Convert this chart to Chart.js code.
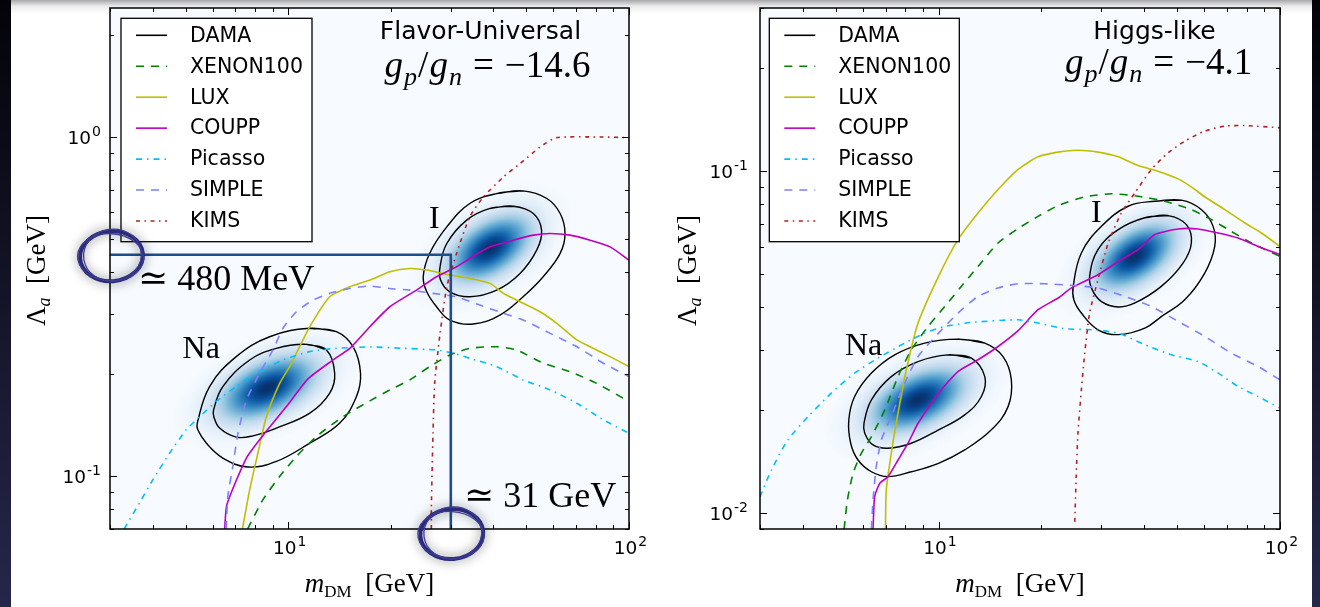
<!DOCTYPE html>
<html>
<head>
<meta charset="utf-8">
<title>DAMA regions vs. direct detection bounds</title>
<script src="https://cdn.jsdelivr.net/npm/chart.js@4.4.1/dist/chart.umd.min.js"></script>
<style>
  html, body { margin: 0; padding: 0; background: #fff; }
  body { width: 1320px; height: 607px; position: relative; overflow: hidden; }
  .edge { position: absolute; top: 0; bottom: 0; background: linear-gradient(#030308, #26264a); }
  #edgeL { left: 0; width: 11px; }
  #edgeR { left: 1312px; width: 8px; }
  #top { position: absolute; left: 11px; width: 1301px; top: 0; height: 14px;
         background: linear-gradient(#a8a8ac, #ececec 45%, #fff); }
  canvas { position: absolute; top: 0; }
  #left { left: 0; }
  #right { left: 660px; }
</style>
</head>
<body>
<div id="top"></div>
<div class="edge" id="edgeL"></div>
<div class="edge" id="edgeR"></div>
<canvas id="left" width="660" height="607"></canvas>
<canvas id="right" width="660" height="607"></canvas>
<script>
// ---- axes ----
const xTicks = [3, 4, 5, 6, 7, 8, 9, 10, 20, 30, 40, 50, 60, 70, 80, 90, 100];
const xLabels = [[10, '1'], [100, '2']];
const yTicksL = [0.07, 0.08, 0.09, 0.1, 0.2, 0.3, 0.4, 0.5, 0.6, 0.7, 0.8, 0.9, 1, 2];
const yLabelsL = [[0.1, '-1'], [1, '0']];
const yTicksR = [0.009, 0.01, 0.02, 0.03, 0.04, 0.05, 0.06, 0.07, 0.08, 0.09, 0.1, 0.2, 0.3];
const yLabelsR = [[0.01, '-2'], [0.1, '-1']];

const series = ['DAMA', 'XENON100', 'LUX', 'COUPP', 'Picasso', 'SIMPLE', 'KIMS'];

// ---- flavor-universal, gp/gn = -14.6  ([m_DM GeV, Lambda_a GeV]) ----
const xenonL = [[7.6,0.07],[8.43,0.0854],[9.44,0.100],[10.57,0.1145],[12.1,0.1311],[14.49,0.150],[17.36,0.167],[19.87,0.1799],[22.75,0.1925],[26.0,0.2106],[29.8,0.228],[34.1,0.2385],[40.9,0.2411],[46.8,0.2359],[56.0,0.2156],[67.1,0.2036],[80.4,0.188],[100,0.1662]];
const luxL = [[7.34,0.07],[7.71,0.0914],[8.15,0.1172],[8.63,0.150],[9.44,0.188],[10.1,0.2106],[10.57,0.2306],[11.57,0.2762],[13.24,0.3384],[15.16,0.362],[17.36,0.379],[19.87,0.4009],[22.75,0.410],[25.5,0.4055],[29.8,0.392],[34.1,0.3834],[39.1,0.3705],[42.8,0.3463],[46.8,0.3309],[54.8,0.3056],[61.4,0.2826],[70.3,0.2524],[76.9,0.2411],[88.0,0.2254],[100,0.2106]];
const couppL = [[6.51,0.07],[6.61,0.0826],[7.54,0.1133],[8.53,0.134],[9.88,0.1606],[11.43,0.1938],[13.54,0.2204],[15.16,0.2385],[17.36,0.2762],[19.87,0.3162],[23.8,0.354],[27.25,0.3876],[31.2,0.4147],[34.1,0.4388],[39.1,0.4747],[45.8,0.4967],[52.4,0.514],[58.7,0.5198],[67.1,0.514],[76.9,0.4967],[88.0,0.4747],[100,0.4338]];
const picassoL = [[3.3,0.07],[3.66,0.0835],[4.01,0.0978],[4.49,0.1172],[5.02,0.1372],[5.5,0.150],[6.15,0.1662],[7.04,0.184],[8.06,0.2014],[9.65,0.2204],[11.57,0.2332],[13.85,0.2385],[17.36,0.2407],[21.7,0.2385],[27.25,0.2359],[30.5,0.2306],[34.1,0.2229],[40.9,0.2106],[48.9,0.1925],[58.7,0.1799],[70.3,0.1643],[84.1,0.1468],[100,0.134]];
const simpleL = [[6.58,0.07],[6.65,0.0873],[6.88,0.107],[7.12,0.134],[7.54,0.168],[8.25,0.2014],[9.02,0.2359],[9.65,0.2732],[10.57,0.3056],[11.83,0.3309],[13.24,0.3463],[15.16,0.358],[17.36,0.3638],[19.87,0.358],[22.75,0.354],[26.6,0.3463],[31.2,0.3384],[36.5,0.3199],[42.8,0.3023],[48.9,0.2889],[58.7,0.264],[70.3,0.2411],[84.1,0.2156],[100,0.1968]];
const kimsL = [[26.3,0.07],[26.3,0.0798],[26.6,0.134],[26.9,0.188],[27.9,0.264],[29.2,0.362],[31.2,0.454],[34.1,0.582],[37.4,0.666],[42.8,0.763],[47.9,0.835],[54.8,0.934],[61.4,0.996],[84.1,1.0],[100,0.996]];
const naOutL = [[11.57,0.2732],[13.85,0.267],[15.5,0.2411],[16.3,0.2014],[15.86,0.172],[14.17,0.1436],[11.57,0.1254],[9.23,0.1107],[7.62,0.1066],[6.43,0.1133],[5.75,0.1254],[5.43,0.1372],[5.41,0.1436],[5.88,0.184],[7.04,0.2254],[8.82,0.258]];
const naInL = [[11.31,0.245],[12.95,0.2359],[13.69,0.2014],[13.24,0.176],[11.57,0.1536],[9.23,0.1388],[7.88,0.1317],[7.04,0.1306],[6.29,0.1388],[6.05,0.150],[6.04,0.157],[6.43,0.184],[7.71,0.2204],[9.23,0.2385]];
const iOutL = [[40.9,0.6815],[48.9,0.694],[57.4,0.659],[62.8,0.5953],[64.9,0.5198],[62.8,0.454],[56.0,0.3876],[48.9,0.3384],[41.8,0.2989],[34.9,0.2812],[29.8,0.2889],[27.25,0.3162],[25.5,0.350],[24.9,0.3876],[26.0,0.454],[29.2,0.5435],[34.1,0.637]];
const iInL = [[39.1,0.616],[45.8,0.6254],[52.4,0.5953],[55.4,0.5315],[53.6,0.4642],[47.9,0.3965],[40.9,0.354],[34.1,0.3384],[29.8,0.350],[28.0,0.379],[27.9,0.4147],[29.2,0.4857],[33.4,0.569]];
// DAMA best-fit densities: centre, spread (decades, major/minor), tilt (deg)
const blobsL = [
  { at: [8.7, 0.182], spread: [0.1, 0.05], tilt: 25 },
  { at: [39.1, 0.4695], spread: [0.09, 0.05], tilt: 33 }
];
const guideL = [[3, 0.45], [30, 0.45], [30, 0.07]];

// ---- Higgs-like, gp/gn = -4.1 ----
const xenonR = [[5.29,0.009],[5.41,0.01094],[5.62,0.0131],[5.94,0.01498],[6.36,0.01676],[6.96,0.02006],[7.61,0.0251],[8.32,0.03006],[9.32,0.03518],[10.43,0.04025],[11.66,0.04606],[13.05,0.0527],[14.94,0.0617],[17.1,0.068],[19.56,0.0738],[22.4,0.0794],[26.8,0.0842],[32.1,0.0859],[38.4,0.0845],[46.0,0.0817],[55.0,0.0772],[63.0,0.0722],[72.0,0.0667],[82.5,0.0617],[100,0.0564]];
const luxR = [[6.99,0.009],[7.03,0.0117],[7.27,0.01498],[7.61,0.01962],[8.05,0.02628],[8.71,0.036],[10.0,0.0493],[11.4,0.0631],[13.05,0.0755],[14.94,0.0884],[17.1,0.1012],[19.56,0.1102],[22.4,0.1137],[25.6,0.1152],[29.3,0.1137],[33.6,0.1102],[38.4,0.1039],[43.9,0.100],[50.3,0.095],[55.0,0.090],[60.2,0.0842],[68.9,0.0772],[78.9,0.0706],[88.2,0.066],[100,0.0603]];
const couppR = [[6.43,0.009],[6.5,0.01119],[6.73,0.01224],[7.11,0.0128],[7.61,0.01432],[8.14,0.01603],[8.71,0.01834],[10.0,0.02245],[11.4,0.02597],[13.05,0.02811],[14.94,0.03074],[17.1,0.0342],[19.56,0.03937],[22.4,0.0426],[24.5,0.0456],[29.3,0.0498],[33.6,0.0545],[38.4,0.059],[43.0,0.0653],[50.3,0.0678],[57.6,0.0678],[65.9,0.066],[75.4,0.0638],[86.3,0.0603],[100,0.0571]];
const picassoR = [[3.0,0.01116],[3.24,0.01339],[3.62,0.0164],[4.15,0.01918],[4.85,0.02245],[5.68,0.0257],[6.65,0.02843],[7.96,0.03146],[9.11,0.03364],[10.43,0.03518],[12.48,0.03614],[17.1,0.0368],[19.56,0.036],[23.4,0.03464],[28.0,0.0344],[33.6,0.03364],[40.2,0.0311],[48.1,0.02906],[57.6,0.02778],[65.9,0.0257],[75.4,0.02348],[86.3,0.02195],[100,0.0203]];
const simpleR = [[6.36,0.009],[6.43,0.01094],[6.57,0.01369],[6.8,0.0164],[7.27,0.01918],[7.96,0.02402],[8.71,0.02873],[10.0,0.03364],[11.4,0.0385],[13.05,0.04306],[14.94,0.0456],[17.1,0.0469],[20.5,0.0469],[24.5,0.0464],[29.3,0.0456],[35.1,0.04306],[42.0,0.04025],[50.3,0.0364],[60.2,0.0329],[72.0,0.0294],[86.3,0.02686],[100,0.02456]];
const kimsR = [[25.06,0.00945],[25.3,0.0128],[25.6,0.01715],[26.2,0.02296],[26.8,0.0294],[27.7,0.0385],[29.3,0.0482],[31.4,0.0617],[34.3,0.0755],[37.6,0.0865],[42.0,0.1012],[47.0,0.1132],[52.6,0.1224],[60.2,0.131],[68.9,0.1354],[78.9,0.136],[100,0.134]];
const naOutR = [[11.4,0.0323],[13.66,0.03146],[15.45,0.02873],[16.34,0.02456],[15.98,0.02051],[14.28,0.01754],[11.93,0.01532],[10.0,0.014],[8.32,0.01323],[7.11,0.0128],[6.36,0.01323],[5.81,0.01432],[5.53,0.01603],[5.46,0.01875],[5.68,0.02195],[6.36,0.0257],[7.44,0.02906],[9.11,0.03146]];
const naInR = [[10.66,0.02906],[12.48,0.02843],[13.66,0.0251],[13.35,0.02195],[11.93,0.0194],[10.0,0.01754],[8.32,0.01603],[7.11,0.0155],[6.43,0.01585],[6.08,0.01715],[6.05,0.01834],[6.36,0.02146],[7.27,0.0251],[8.71,0.02778]];
const iOutR = [[43.0,0.0817],[51.4,0.0823],[58.9,0.0772],[63.7,0.069],[64.4,0.0603],[60.2,0.0504],[52.6,0.0421],[44.9,0.0376],[40.2,0.0348],[33.6,0.0333],[29.3,0.0344],[26.2,0.0385],[24.9,0.0421],[24.8,0.04606],[26.2,0.0577],[30.0,0.069],[35.9,0.079]];
const iInR = [[40.2,0.0731],[47.0,0.0742],[53.2,0.0698],[55.0,0.0617],[52.0,0.0539],[44.9,0.04606],[37.6,0.0412],[33.6,0.0401],[30.0,0.0416],[28.2,0.045],[27.7,0.0493],[29.3,0.059],[33.6,0.0675]];
const blobsR = [
  { at: [8.7, 0.02146], spread: [0.098, 0.05], tilt: 25 },
  { at: [37.6, 0.0564], spread: [0.088, 0.048], tilt: 34 }
];

// ---- styles ----
const styles = {
  DAMA:     { color: '#000000', dash: [] },
  XENON100: { color: '#008000', dash: [8, 7] },
  LUX:      { color: '#bfbf00', dash: [] },
  COUPP:    { color: '#bf00bf', dash: [] },
  Picasso:  { color: '#00bfff', dash: [6, 5, 1.5, 5] },
  SIMPLE:   { color: '#7f7fff', dash: [8, 7] },
  KIMS:     { color: '#b22222', dash: [4, 4.5, 1.5, 4.5] }
};
const SANS = '"DejaVu Sans", sans-serif';
const SERIF = '"Liberation Serif", "DejaVu Serif", serif';
const bluesMap = ['#f7fbff','#deebf7','#c6dbef','#9ecae1','#6baed6','#4292c6','#2171b5','#08519c','#08306b'];

function blues(v) {
  const s = Math.max(0, Math.min(1, v)) * 8;
  const i = Math.min(7, Math.floor(s)), f = s - i;
  const a = bluesMap[i], b = bluesMap[i + 1];
  const c = k => Math.round(parseInt(a.substr(k, 2), 16) * (1 - f) + parseInt(b.substr(k, 2), 16) * f);
  return 'rgb(' + c(1) + ',' + c(3) + ',' + c(5) + ')';
}

const pts = a => a.map(p => ({ x: p[0], y: p[1] }));

function curve(name, data) {
  return { label: name, data: pts(data), showLine: true, borderColor: styles[name].color,
    borderDash: styles[name].dash, borderWidth: 1.6, pointRadius: 0, tension: 0.2, order: 5 };
}
function contour(data) {
  return { label: 'DAMA', data: pts(data.concat([data[0], data[1]])), showLine: true,
    borderColor: '#000', borderWidth: 1.4, pointRadius: 0, tension: 0.4, order: 8 };
}

// draws a run of text pieces (for sub/superscripts)
function rich(ctx, parts, x, y, align) {
  let w = 0;
  parts.forEach(p => { ctx.font = p.f; p.w = ctx.measureText(p.t).width + (p.gap || 0); w += p.w; });
  let cx = align === 'center' ? x - w / 2 : align === 'right' ? x - w : x;
  ctx.textAlign = 'left';
  ctx.textBaseline = 'alphabetic';
  parts.forEach(p => { ctx.font = p.f; ctx.fillText(p.t, cx + (p.pre || 0), y + (p.dy || 0)); cx += p.w; });
}

function ring(ctx, cx, cy, rx, ry) {
  ctx.save();
  ctx.shadowColor = 'rgba(0,0,0,0.55)';
  ctx.shadowBlur = 11;
  ctx.strokeStyle = '#2a2a78';
  ctx.lineWidth = 4;
  ctx.beginPath(); ctx.ellipse(cx, cy, rx, ry, -0.08, 0, 2 * Math.PI); ctx.stroke();
  ctx.shadowBlur = 0;
  ctx.lineWidth = 1.3;
  ctx.strokeStyle = '#3c3c94';
  ctx.beginPath(); ctx.ellipse(cx + 1, cy - 1, rx - 2.5, ry + 1, -0.14, 0, 2 * Math.PI); ctx.stroke();
  ctx.beginPath(); ctx.ellipse(cx - 1, cy + 1, rx + 1.5, ry - 1.5, 0.05, 0, 2 * Math.PI); ctx.stroke();
  ctx.restore();
}

function decor(p) {
  return {
    id: 'decor',
    beforeDraw(chart) {
      const { ctx, chartArea: a } = chart;
      ctx.save();
      ctx.fillStyle = '#f7fbff';
      ctx.fillRect(a.left, a.top, a.width, a.height);
      ctx.restore();
    },
    beforeDatasetsDraw(chart) {
      const { ctx, chartArea: a, scales: { x, y } } = chart;
      ctx.save();
      ctx.beginPath(); ctx.rect(a.left, a.top, a.width, a.height); ctx.clip();
      p.blobs.forEach(b => {
        const cx = x.getPixelForValue(b.at[0]), cy = y.getPixelForValue(b.at[1]);
        const dec = x.getPixelForValue(b.at[0] * 10) - cx;
        ctx.save();
        ctx.translate(cx, cy);
        ctx.rotate(-b.tilt * Math.PI / 180);
        ctx.scale(b.spread[0] * dec, b.spread[1] * dec);
        const g = ctx.createRadialGradient(0, 0, 0, 0, 0, 3);
        for (let i = 0; i <= 24; i++) {
          const t = i / 24;
          g.addColorStop(t, blues(Math.exp(-(3 * t) * (3 * t) / 2)));
        }
        ctx.fillStyle = g;
        ctx.beginPath(); ctx.arc(0, 0, 3, 0, 2 * Math.PI); ctx.fill();
        ctx.restore();
      });
      ctx.restore();
    },
    afterDatasetsDraw(chart) {
      const { ctx, chartArea: a, scales: { x, y } } = chart;
      ctx.save();
      ctx.strokeStyle = '#000';
      ctx.lineWidth = 1;
      const seg = (x0, y0, x1, y1) => { ctx.beginPath(); ctx.moveTo(x0, y0); ctx.lineTo(x1, y1); ctx.stroke(); };
      const xMaj = xLabels.map(l => l[0]), yMaj = p.yLabels.map(l => l[0]);
      xTicks.forEach(v => {
        const px = Math.round(x.getPixelForValue(v)) + 0.5, len = xMaj.includes(v) ? 7 : 4;
        seg(px, a.bottom, px, a.bottom - len);
        seg(px, a.top, px, a.top + len);
      });
      p.yTicks.forEach(v => {
        const py = Math.round(y.getPixelForValue(v)) + 0.5, len = yMaj.includes(v) ? 7 : 4;
        seg(a.left, py, a.left + len, py);
        seg(a.right, py, a.right - len, py);
      });
      ctx.lineWidth = 1.5;
      ctx.strokeRect(a.left, a.top, a.width, a.height);
      ctx.fillStyle = '#000';
      xLabels.forEach(l => rich(ctx, [{ t: '10', f: '18.5px ' + SANS }, { t: l[1], f: '14px ' + SANS, dy: -8, pre: 1 }],
        x.getPixelForValue(l[0]) + 1, a.bottom + 25, 'center'));
      p.yLabels.forEach(l => rich(ctx, [{ t: '10', f: '18.5px ' + SANS }, { t: l[1], f: '14px ' + SANS, dy: -8, pre: 1 }],
        a.left - p.labelGap, y.getPixelForValue(l[0]) + 7, 'right'));
      ctx.restore();
    },
    afterDraw(chart) {
      const { ctx, chartArea: a, scales: { x, y } } = chart;
      ctx.save();
      ctx.fillStyle = '#000';
      // axis titles
      rich(ctx, [{ t: 'm', f: 'italic 27px ' + SERIF }, { t: 'DM', f: '17px ' + SERIF, dy: 5 },
        { t: '  [GeV]', f: '27px ' + SERIF }], (a.left + a.right) / 2, 592, 'center');
      ctx.save();
      ctx.translate(p.yTitleX, (a.top + a.bottom) / 2 + 2);
      ctx.rotate(-Math.PI / 2);
      rich(ctx, [{ t: '\u039b', f: '27px ' + SERIF }, { t: 'a', f: 'italic 18px ' + SERIF, dy: 5 },
        { t: '  [GeV]', f: '27px ' + SERIF }], 0, 0, 'center');
      ctx.restore();
      // titles
      ctx.font = '25px ' + SANS;
      ctx.textAlign = 'center';
      ctx.fillText(p.title, p.titleAt[0], p.titleAt[1]);
      rich(ctx, [{ t: 'g', f: 'italic 37px ' + SERIF, gap: 1 }, { t: 'p', f: 'italic 26px ' + SERIF, dy: 8, gap: 1 },
        { t: '/', f: '37px ' + SERIF, gap: 1 }, { t: 'g', f: 'italic 37px ' + SERIF, gap: 1 },
        { t: 'n', f: 'italic 26px ' + SERIF, dy: 8, gap: 11 }, { t: '=', f: '37px ' + SERIF, gap: 11 },
        { t: p.ratio, f: '37px ' + SERIF }], p.ratioAt[0], p.ratioAt[1], 'center');
      // target labels
      p.targets.forEach(t => {
        ctx.font = '32px ' + SERIF;
        ctx.textAlign = 'left';
        ctx.fillText(t.text, x.getPixelForValue(t.at[0]), y.getPixelForValue(t.at[1]));
      });
      p.notes.forEach(n => {
        ctx.font = '36px ' + SERIF;
        ctx.textAlign = 'left';
        ctx.fillText(n.text, n.px[0], n.px[1]);
      });
      // legend
      const L = p.legend;
      ctx.fillStyle = '#fff';
      ctx.fillRect(L[0], L[1], L[2], L[3]);
      ctx.strokeStyle = '#000';
      ctx.lineWidth = 1.3;
      ctx.strokeRect(L[0], L[1], L[2], L[3]);
      series.forEach((name, i) => {
        const yy = L[1] + 17 + i * 30.95;
        ctx.setLineDash(styles[name].dash);
        ctx.strokeStyle = styles[name].color;
        ctx.lineWidth = 1.6;
        ctx.beginPath(); ctx.moveTo(L[0] + 15, yy); ctx.lineTo(L[0] + 46, yy); ctx.stroke();
        ctx.setLineDash([]);
        ctx.fillStyle = '#000';
        ctx.font = '20.5px ' + SANS;
        ctx.textAlign = 'left';
        ctx.textBaseline = 'middle';
        ctx.fillText(name, L[0] + 69, yy + 1);
      });
      ctx.textBaseline = 'alphabetic';
      // hand-drawn circles marking the read-off values
      p.rings.forEach(r => ring(ctx, x.getPixelForValue(r.at[0]) + r.shift[0],
        y.getPixelForValue(r.at[1]) + r.shift[1], 31.5, 25));
      ctx.restore();
    }
  };
}

function makeChart(id, p) {
  const datasets = [];
  if (p.guide) {
    datasets.push({ label: 'guide', data: pts(p.guide), showLine: true, borderColor: '#1f4e8a',
      borderWidth: 2.6, pointRadius: 0, tension: 0, order: 0 });
  }
  p.curves.forEach(c => datasets.push(curve(c[0], c[1])));
  p.contours.forEach(c => datasets.push(contour(c)));
  new Chart(document.getElementById(id), {
    type: 'scatter',
    data: { datasets },
    options: {
      responsive: false,
      animation: false,
      events: [],
      layout: { padding: p.padding },
      scales: {
        x: { type: 'logarithmic', min: 3, max: 100, display: false },
        y: { type: 'logarithmic', min: p.yRange[0], max: p.yRange[1], display: false }
      },
      plugins: { legend: { display: false }, tooltip: { enabled: false } }
    },
    plugins: [decor(p)]
  });
}

makeChart('left', {
  padding: { left: 110, right: 31, top: 8, bottom: 78 },
  yRange: [0.07, 2.4],
  yTicks: yTicksL, yLabels: yLabelsL, labelGap: 10, yTitleX: 45,
  title: 'Flavor-Universal', titleAt: [480.5, 39], ratio: '\u221214.6', ratioAt: [487.5, 77],
  curves: [['KIMS', kimsL], ['SIMPLE', simpleL], ['Picasso', picassoL], ['COUPP', couppL], ['LUX', luxL], ['XENON100', xenonL]],
  contours: [naOutL, naInL, iOutL, iInL],
  blobs: blobsL,
  guide: guideL,
  targets: [{ text: 'Na', at: [4.90, 0.2234] }, { text: 'I', at: [25.9, 0.539] }],
  notes: [{ text: '\u2243 480 MeV', px: [138, 290] }, { text: '\u2243 31 GeV', px: [464, 507] }],
  legend: [121, 18.3, 191, 223.4],
  rings: [{ at: [3, 0.45], shift: [1.5, 1.5] }, { at: [30, 0.07], shift: [1, 5] }]
});

makeChart('right', {
  padding: { left: 100, right: 40, top: 8, bottom: 78 },
  yRange: [0.009, 0.3],
  yTicks: yTicksR, yLabels: yLabelsR, labelGap: 13, yTitleX: 36,
  title: 'Higgs-like', titleAt: [494.5, 38.5], ratio: '\u22124.1', ratioAt: [498.7, 74],
  curves: [['KIMS', kimsR], ['SIMPLE', simpleR], ['Picasso', picassoR], ['COUPP', couppR], ['LUX', luxR], ['XENON100', xenonR]],
  contours: [naOutR, naInR, iOutR, iInR],
  blobs: blobsR,
  guide: null,
  targets: [{ text: 'Na', at: [5.32, 0.02906] }, { text: 'I', at: [27.97, 0.071] }],
  notes: [],
  legend: [109.3, 18.3, 190, 223.4],
  rings: []
});
</script>
</body>
</html>
